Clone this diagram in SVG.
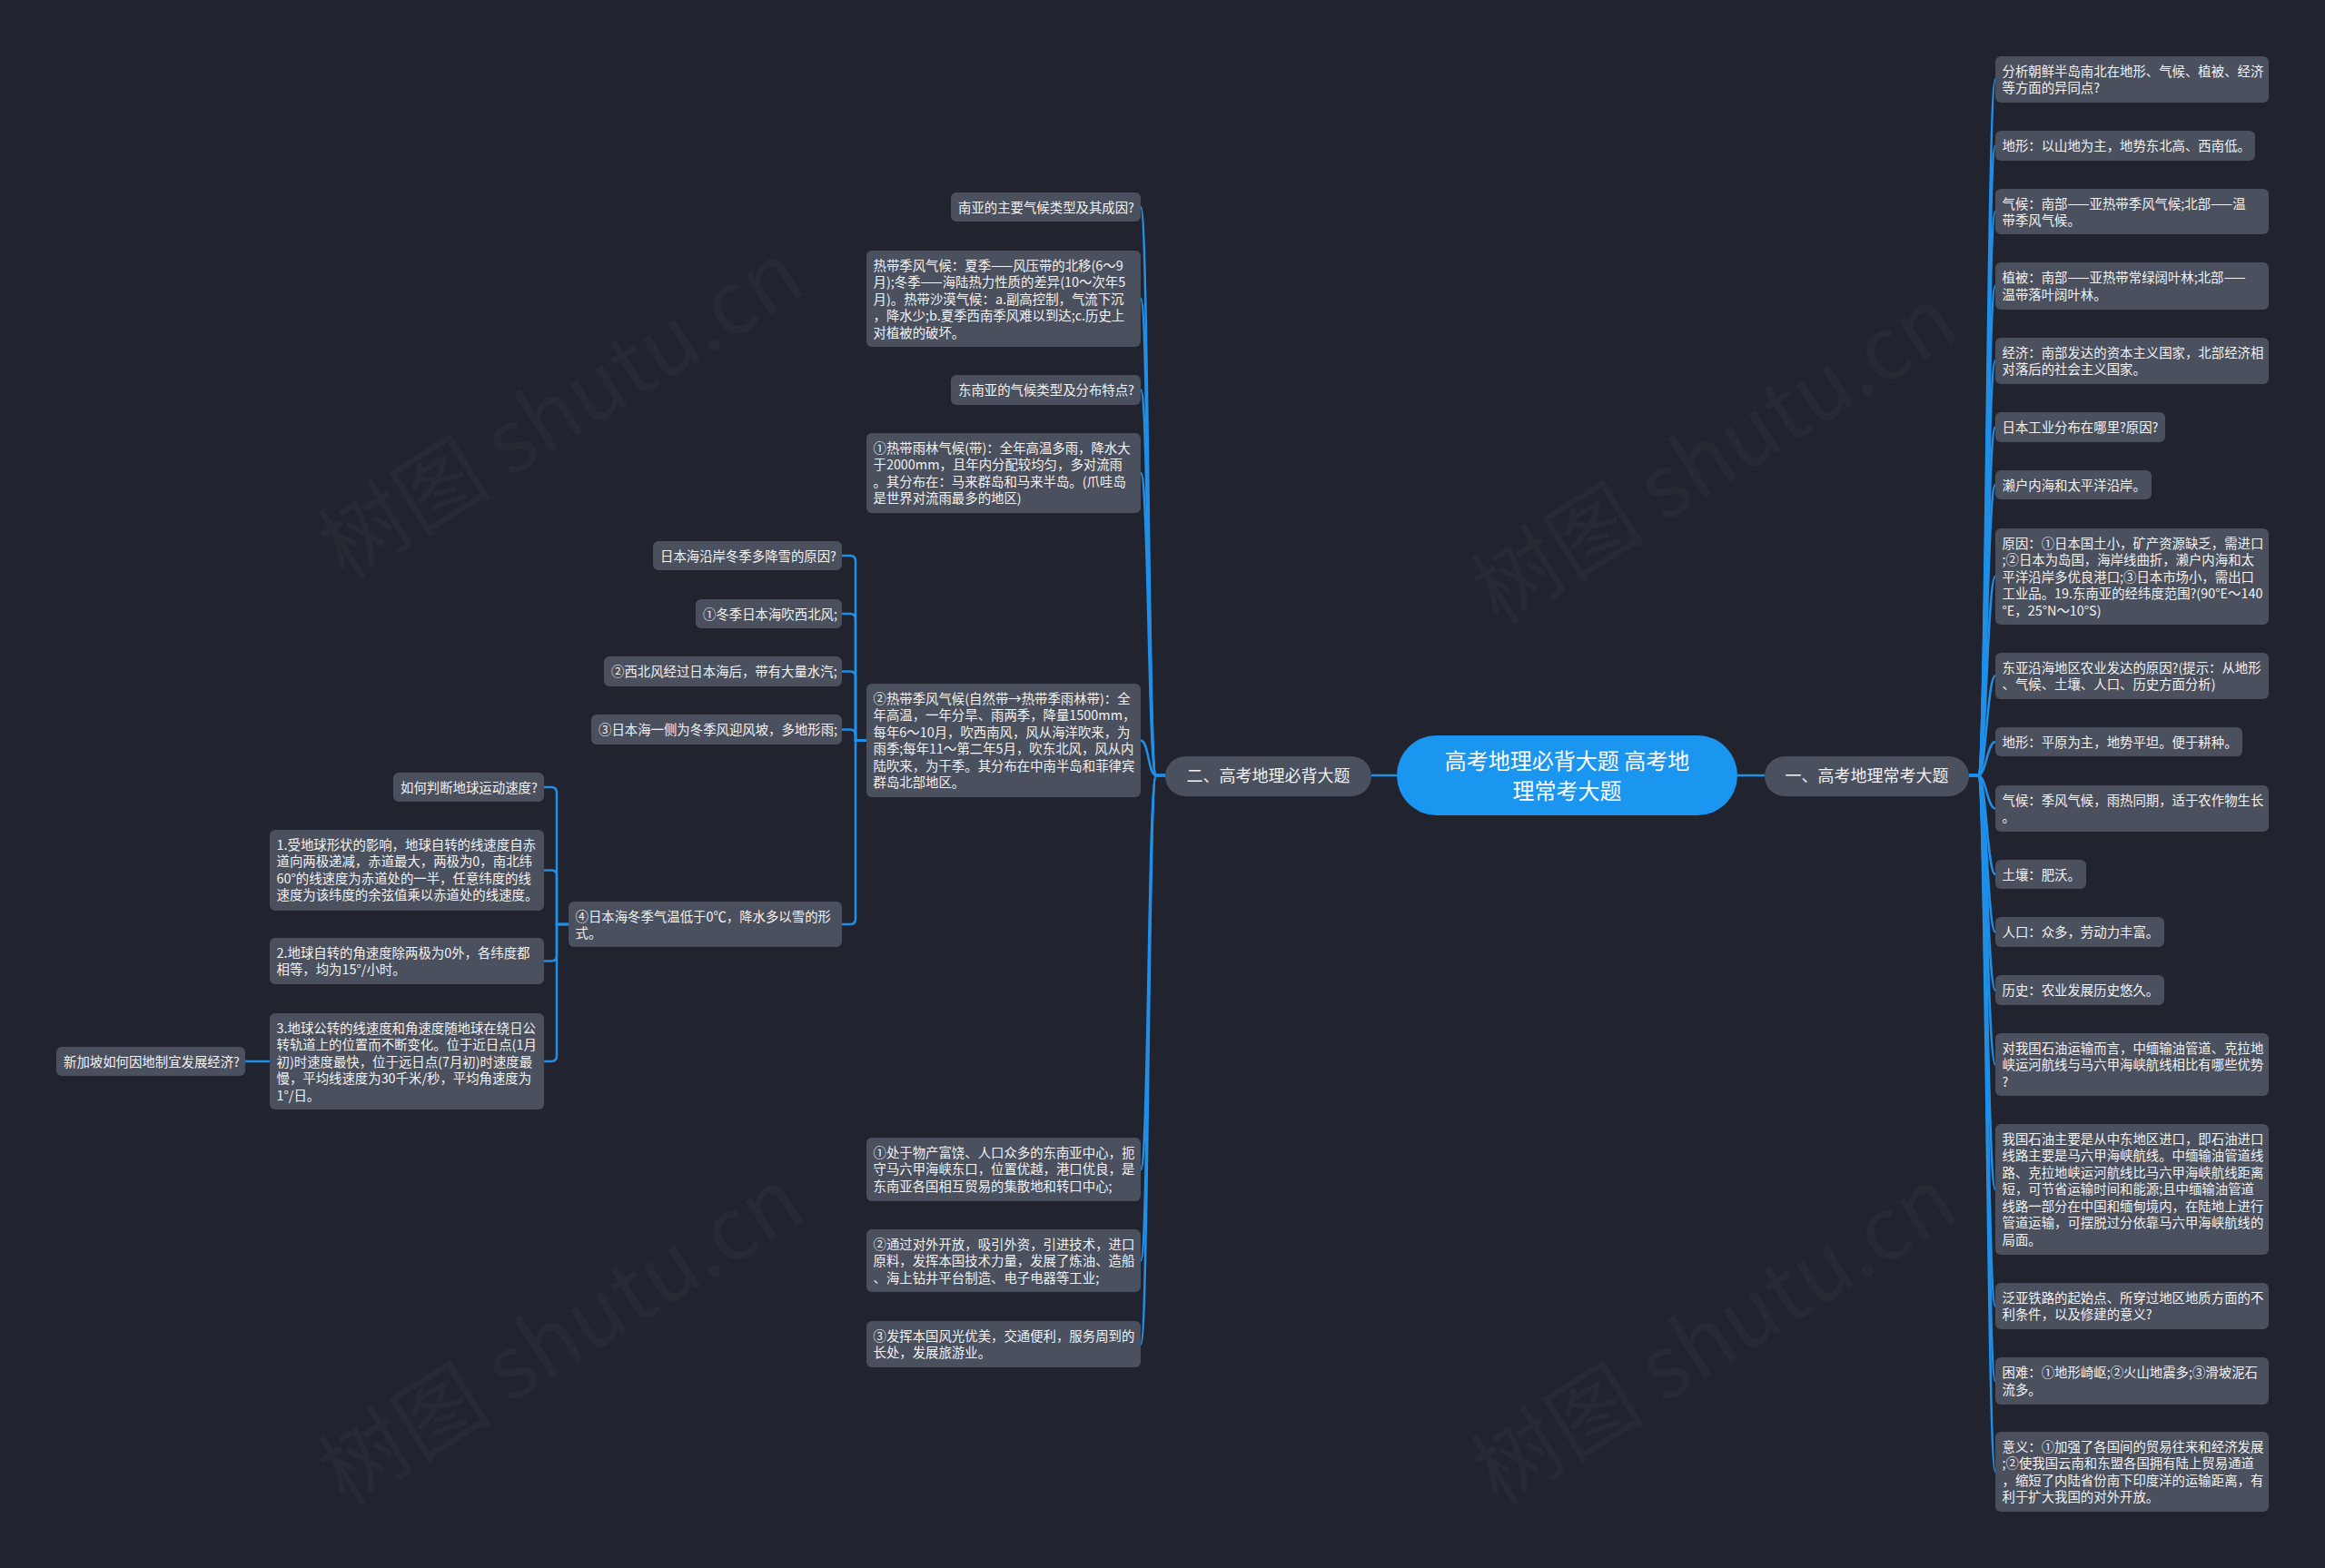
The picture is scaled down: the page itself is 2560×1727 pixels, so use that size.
<svg xmlns="http://www.w3.org/2000/svg" width="2560" height="1727" viewBox="0 0 2560 1727">
<style>
.bg{fill:#21242e}
.n rect{fill:#4a505e}
.n text,.t{font-family:"Noto Sans CJK SC","Noto Sans",sans-serif;font-size:14.4px;fill:#f2f2f2}
.e path{fill:none;stroke:#1f8fe8;stroke-width:2.5}
.wm{font-family:"Noto Sans CJK SC","Liberation Serif",serif;font-size:96px;fill:#ffffff;opacity:0.022}
</style>
<rect class="bg" x="0" y="0" width="2560" height="1727"/>
<g id="watermarks">
<text class="wm" transform="translate(380,640) rotate(-32)">树图 shutu.cn</text>
<text class="wm" transform="translate(1650,690) rotate(-32)">树图 shutu.cn</text>
<text class="wm" transform="translate(380,1660) rotate(-32)">树图 shutu.cn</text>
<text class="wm" transform="translate(1650,1660) rotate(-32)">树图 shutu.cn</text>
</g>
<g id="connectors" class="e">
<path d="M1510,854 H1538"/>
<path d="M1913,854 H1943"/>
<path d="M2168,854 H2178 C2187,854 2188,87.5 2197,87.5"/>
<path d="M2168,854 H2178 C2187,854 2188,160.5 2197,160.5"/>
<path d="M2168,854 H2178 C2187,854 2188,233 2197,233"/>
<path d="M2168,854 H2178 C2187,854 2188,315 2197,315"/>
<path d="M2168,854 H2178 C2187,854 2188,397.5 2197,397.5"/>
<path d="M2168,854 H2178 C2187,854 2188,470.5 2197,470.5"/>
<path d="M2168,854 H2178 C2187,854 2188,534 2197,534"/>
<path d="M2168,854 H2178 C2187,854 2188,635 2197,635"/>
<path d="M2168,854 H2178 C2187,854 2188,744.5 2197,744.5"/>
<path d="M2168,854 H2178 C2187,854 2188,817 2197,817"/>
<path d="M2168,854 H2178 C2187,854 2188,890.5 2197,890.5"/>
<path d="M2168,854 H2178 C2187,854 2188,963 2197,963"/>
<path d="M2168,854 H2178 C2187,854 2188,1026.5 2197,1026.5"/>
<path d="M2168,854 H2178 C2187,854 2188,1090.5 2197,1090.5"/>
<path d="M2168,854 H2178 C2187,854 2188,1172.5 2197,1172.5"/>
<path d="M2168,854 H2178 C2187,854 2188,1310 2197,1310"/>
<path d="M2168,854 H2178 C2187,854 2188,1438.5 2197,1438.5"/>
<path d="M2168,854 H2178 C2187,854 2188,1521 2197,1521"/>
<path d="M2168,854 H2178 C2187,854 2188,1621 2197,1621"/>
<path d="M1283,854 H1273 C1264,854 1265,228 1256,228"/>
<path d="M1283,854 H1273 C1264,854 1265,329 1256,329"/>
<path d="M1283,854 H1273 C1264,854 1265,429.5 1256,429.5"/>
<path d="M1283,854 H1273 C1264,854 1265,521 1256,521"/>
<path d="M1283,854 H1273 C1264,854 1265,815.5 1256,815.5"/>
<path d="M1283,854 H1273 C1264,854 1265,1288 1256,1288"/>
<path d="M1283,854 H1273 C1264,854 1265,1388.5 1256,1388.5"/>
<path d="M1283,854 H1273 C1264,854 1265,1480.5 1256,1480.5"/>
<path d="M954,815.5 H942 V618 Q942,612 936,612 H927"/>
<path d="M954,815.5 H942 V682 Q942,676 936,676 H927"/>
<path d="M954,815.5 H942 V745.5 Q942,739.5 936,739.5 H927"/>
<path d="M954,815.5 H942 V809.5 Q942,803.5 936,803.5 H927"/>
<path d="M954,815.5 H942 V1012 Q942,1018 936,1018 H927"/>
<path d="M626,1018 H613 V873 Q613,867 607,867 H599"/>
<path d="M626,1018 H613 V964.5 Q613,958.5 607,958.5 H599"/>
<path d="M626,1018 H613 V1052.5 Q613,1058.5 607,1058.5 H599"/>
<path d="M626,1018 H613 V1163 Q613,1169 607,1169 H599"/>
<path d="M297,1169 H270"/>
</g>
<g id="center">
<rect x="1538" y="810" width="375" height="88" rx="44" fill="#1a96f0"/>
<text x="1725.5" y="846.5" text-anchor="middle" style="font-family:'Noto Sans CJK SC',sans-serif;font-size:24px;fill:#ffffff">高考地理必背大题 高考地</text>
<text x="1725.5" y="879.5" text-anchor="middle" style="font-family:'Noto Sans CJK SC',sans-serif;font-size:24px;fill:#ffffff">理常考大题</text>
</g>
<g id="branch-left" class="n">
<rect x="1283" y="833" width="227" height="44" rx="22"/>
<text x="1396.5" y="861" text-anchor="middle" style="font-size:18px">二、高考地理必背大题</text>
</g>
<g id="branch-right" class="n">
<rect x="1943" y="833" width="225" height="44" rx="22"/>
<text x="2055.5" y="861" text-anchor="middle" style="font-size:18px">一、高考地理常考大题</text>
</g>
<g id="r1" class="n"><rect x="2197" y="62" width="301" height="51" rx="6"/><text x="2204.5" y="83.5">分析朝鲜半岛南北在地形、气候、植被、经济</text><text x="2204.5" y="102">等方面的异同点?</text></g>
<g id="r2" class="n"><rect x="2197" y="144" width="286" height="33" rx="6"/><text x="2204.5" y="166">地形：以山地为主，地势东北高、西南低。</text></g>
<g id="r3" class="n"><rect x="2197" y="208" width="301" height="50" rx="6"/><text x="2204.5" y="229.5">气候：南部——亚热带季风气候;北部——温</text><text x="2204.5" y="248">带季风气候。</text></g>
<g id="r4" class="n"><rect x="2197" y="289" width="301" height="52" rx="6"/><text x="2204.5" y="311">植被：南部——亚热带常绿阔叶林;北部——</text><text x="2204.5" y="329.5">温带落叶阔叶林。</text></g>
<g id="r5" class="n"><rect x="2197" y="372" width="301" height="51" rx="6"/><text x="2204.5" y="393.5">经济：南部发达的资本主义国家，北部经济相</text><text x="2204.5" y="412">对落后的社会主义国家。</text></g>
<g id="r6" class="n"><rect x="2197" y="454" width="187" height="33" rx="6"/><text x="2204.5" y="476">日本工业分布在哪里?原因?</text></g>
<g id="r7" class="n"><rect x="2197" y="518" width="172" height="32" rx="6"/><text x="2204.5" y="539.5">濑户内海和太平洋沿岸。</text></g>
<g id="r8" class="n"><rect x="2197" y="582" width="301" height="106" rx="6"/><text x="2204.5" y="603.5">原因：①日本国土小，矿产资源缺乏，需进口</text><text x="2204.5" y="622">;②日本为岛国，海岸线曲折，濑户内海和太</text><text x="2204.5" y="640.5">平洋沿岸多优良港口;③日本市场小，需出口</text><text x="2204.5" y="659">工业品。19.东南亚的经纬度范围?(90°E～140</text><text x="2204.5" y="677.5">°E，25°N～10°S)</text></g>
<g id="r9" class="n"><rect x="2197" y="719" width="301" height="51" rx="6"/><text x="2204.5" y="740.5">东亚沿海地区农业发达的原因?(提示：从地形</text><text x="2204.5" y="759">、气候、土壤、人口、历史方面分析)</text></g>
<g id="r10" class="n"><rect x="2197" y="801" width="272" height="32" rx="6"/><text x="2204.5" y="822.5">地形：平原为主，地势平坦。便于耕种。</text></g>
<g id="r11" class="n"><rect x="2197" y="865" width="301" height="51" rx="6"/><text x="2204.5" y="886.5">气候：季风气候，雨热同期，适于农作物生长</text><text x="2204.5" y="905">。</text></g>
<g id="r12" class="n"><rect x="2197" y="947" width="100" height="32" rx="6"/><text x="2204.5" y="968.5">土壤：肥沃。</text></g>
<g id="r13" class="n"><rect x="2197" y="1010" width="186" height="33" rx="6"/><text x="2204.5" y="1032">人口：众多，劳动力丰富。</text></g>
<g id="r14" class="n"><rect x="2197" y="1074" width="186" height="33" rx="6"/><text x="2204.5" y="1096">历史：农业发展历史悠久。</text></g>
<g id="r15" class="n"><rect x="2197" y="1138" width="301" height="69" rx="6"/><text x="2204.5" y="1159.5">对我国石油运输而言，中缅输油管道、克拉地</text><text x="2204.5" y="1178">峡运河航线与马六甲海峡航线相比有哪些优势</text><text x="2204.5" y="1196.5">?</text></g>
<g id="r16" class="n"><rect x="2197" y="1238" width="301" height="144" rx="6"/><text x="2204.5" y="1259.5">我国石油主要是从中东地区进口，即石油进口</text><text x="2204.5" y="1278">线路主要是马六甲海峡航线。中缅输油管道线</text><text x="2204.5" y="1296.5">路、克拉地峡运河航线比马六甲海峡航线距离</text><text x="2204.5" y="1315">短，可节省运输时间和能源;且中缅输油管道</text><text x="2204.5" y="1333.5">线路一部分在中国和缅甸境内，在陆地上进行</text><text x="2204.5" y="1352">管道运输，可摆脱过分依靠马六甲海峡航线的</text><text x="2204.5" y="1370.5">局面。</text></g>
<g id="r17" class="n"><rect x="2197" y="1413" width="301" height="51" rx="6"/><text x="2204.5" y="1434.5">泛亚铁路的起始点、所穿过地区地质方面的不</text><text x="2204.5" y="1453">利条件，以及修建的意义?</text></g>
<g id="r18" class="n"><rect x="2197" y="1495" width="301" height="52" rx="6"/><text x="2204.5" y="1517">困难：①地形崎岖;②火山地震多;③滑坡泥石</text><text x="2204.5" y="1535.5">流多。</text></g>
<g id="r19" class="n"><rect x="2197" y="1577" width="301" height="88" rx="6"/><text x="2204.5" y="1598.5">意义：①加强了各国间的贸易往来和经济发展</text><text x="2204.5" y="1617">;②使我国云南和东盟各国拥有陆上贸易通道</text><text x="2204.5" y="1635.5">，缩短了内陆省份南下印度洋的运输距离，有</text><text x="2204.5" y="1654">利于扩大我国的对外开放。</text></g>
<g id="m1" class="n"><rect x="1047" y="212" width="209" height="32" rx="6"/><text x="1055" y="233.5">南亚的主要气候类型及其成因?</text></g>
<g id="m2" class="n"><rect x="954" y="276" width="302" height="106" rx="6"/><text x="961.5" y="297.5">热带季风气候：夏季——风压带的北移(6～9</text><text x="961.5" y="316">月);冬季——海陆热力性质的差异(10～次年5</text><text x="961.5" y="334.5">月)。热带沙漠气候：a.副高控制，气流下沉</text><text x="961.5" y="353">，降水少;b.夏季西南季风难以到达;c.历史上</text><text x="961.5" y="371.5">对植被的破坏。</text></g>
<g id="m3" class="n"><rect x="1047" y="413" width="209" height="33" rx="6"/><text x="1055" y="435">东南亚的气候类型及分布特点?</text></g>
<g id="m4" class="n"><rect x="954" y="477" width="302" height="88" rx="6"/><text x="961.5" y="498.5">①热带雨林气候(带)：全年高温多雨，降水大</text><text x="961.5" y="517">于2000mm，且年内分配较均匀，多对流雨</text><text x="961.5" y="535.5">。其分布在：马来群岛和马来半岛。(爪哇岛</text><text x="961.5" y="554">是世界对流雨最多的地区)</text></g>
<g id="m5" class="n"><rect x="954" y="753" width="302" height="125" rx="6"/><text x="961.5" y="774.5">②热带季风气候(自然带→热带季雨林带)：全</text><text x="961.5" y="793">年高温，一年分旱、雨两季，降量1500mm，</text><text x="961.5" y="811.5">每年6～10月，吹西南风，风从海洋吹来，为</text><text x="961.5" y="830">雨季;每年11～第二年5月，吹东北风，风从内</text><text x="961.5" y="848.5">陆吹来，为干季。其分布在中南半岛和菲律宾</text><text x="961.5" y="867">群岛北部地区。</text></g>
<g id="m6" class="n"><rect x="954" y="1253" width="302" height="70" rx="6"/><text x="961.5" y="1274.5">①处于物产富饶、人口众多的东南亚中心，扼</text><text x="961.5" y="1293">守马六甲海峡东口，位置优越，港口优良，是</text><text x="961.5" y="1311.5">东南亚各国相互贸易的集散地和转口中心;</text></g>
<g id="m7" class="n"><rect x="954" y="1354" width="302" height="69" rx="6"/><text x="961.5" y="1375.5">②通过对外开放，吸引外资，引进技术，进口</text><text x="961.5" y="1394">原料，发挥本国技术力量，发展了炼油、造船</text><text x="961.5" y="1412.5">、海上钻井平台制造、电子电器等工业;</text></g>
<g id="m8" class="n"><rect x="954" y="1455" width="302" height="51" rx="6"/><text x="961.5" y="1476.5">③发挥本国风光优美，交通便利，服务周到的</text><text x="961.5" y="1495">长处，发展旅游业。</text></g>
<g id="l1" class="n"><rect x="719" y="596" width="208" height="32" rx="6"/><text x="727" y="617.5">日本海沿岸冬季多降雪的原因?</text></g>
<g id="l2" class="n"><rect x="766" y="660" width="161" height="32" rx="6"/><text x="774" y="681.5">①冬季日本海吹西北风;</text></g>
<g id="l3" class="n"><rect x="665" y="723" width="262" height="33" rx="6"/><text x="673" y="745">②西北风经过日本海后，带有大量水汽;</text></g>
<g id="l4" class="n"><rect x="651" y="787" width="276" height="33" rx="6"/><text x="659" y="809">③日本海一侧为冬季风迎风坡，多地形雨;</text></g>
<g id="l5" class="n"><rect x="626" y="993" width="301" height="50" rx="6"/><text x="633.5" y="1014.5">④日本海冬季气温低于0℃，降水多以雪的形</text><text x="633.5" y="1033">式。</text></g>
<g id="k1" class="n"><rect x="433" y="851" width="166" height="32" rx="6"/><text x="441" y="872.5">如何判断地球运动速度?</text></g>
<g id="k2" class="n"><rect x="297" y="914" width="302" height="89" rx="6"/><text x="304.5" y="935.5">1.受地球形状的影响，地球自转的线速度自赤</text><text x="304.5" y="954">道向两极递减，赤道最大，两极为0，南北纬</text><text x="304.5" y="972.5">60°的线速度为赤道处的一半，任意纬度的线</text><text x="304.5" y="991">速度为该纬度的余弦值乘以赤道处的线速度。</text></g>
<g id="k3" class="n"><rect x="297" y="1033" width="302" height="51" rx="6"/><text x="304.5" y="1054.5">2.地球自转的角速度除两极为0外，各纬度都</text><text x="304.5" y="1073">相等，均为15°/小时。</text></g>
<g id="k4" class="n"><rect x="297" y="1116" width="302" height="106" rx="6"/><text x="304.5" y="1137.5">3.地球公转的线速度和角速度随地球在绕日公</text><text x="304.5" y="1156">转轨道上的位置而不断变化。位于近日点(1月</text><text x="304.5" y="1174.5">初)时速度最快，位于远日点(7月初)时速度最</text><text x="304.5" y="1193">慢，平均线速度为30千米/秒，平均角速度为</text><text x="304.5" y="1211.5">1°/日。</text></g>
<g id="s1" class="n"><rect x="62" y="1153" width="208" height="32" rx="6"/><text x="70" y="1174.5">新加坡如何因地制宜发展经济?</text></g>
</svg>
